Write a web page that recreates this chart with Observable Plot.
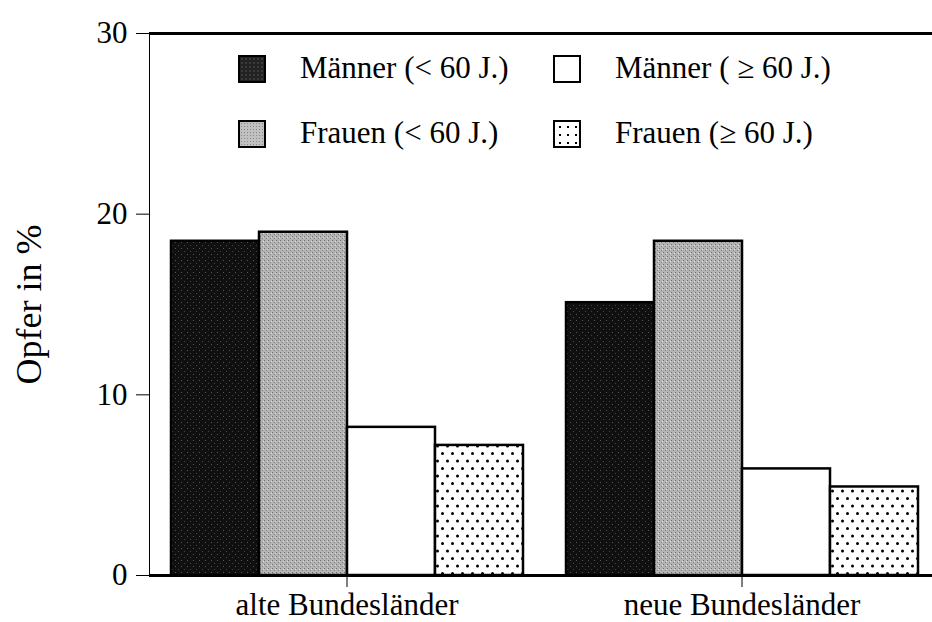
<!DOCTYPE html>
<html>
<head>
<meta charset="utf-8">
<script src="https://cdn.jsdelivr.net/npm/d3@7"></script>
<script src="https://cdn.jsdelivr.net/npm/@observablehq/plot@0.6"></script>
<style>
  html, body { margin: 0; padding: 0; background: white; }
  #wrap { position: relative; width: 932px; height: 622px; overflow: hidden; font-family: "Liberation Serif", "Times New Roman", serif; }
  #wrap svg { max-width: none !important; }
  #wrap svg text { font-family: "Liberation Serif", "Times New Roman", serif; font-size: 31px; }
  #wrap svg g[aria-label="y-axis label"] text { font-size: 36px; }
  #legend { position: absolute; left: 238px; top: 55px; display: grid; grid-template-columns: 315px auto; grid-auto-flow: column; grid-template-rows: 65px 65px; }
  .item { display: flex; align-items: flex-start; height: 28px; }
  .sw { width: 28px; height: 28px; box-sizing: border-box; border: 2.5px solid black; margin-right: 34px; flex: none; }
  .lab { font-size: 31px; line-height: 31px; color: black; white-space: pre; margin-top: -3px; }
</style>
</head>
<body>
<div id="wrap"></div>
<script>
// ---- data ----
const regions = ["alte Bundesländer", "neue Bundesländer"];
const seriesKeys = ["Männer <60", "Frauen <60", "Männer >=60", "Frauen >=60"];
const legendLabels = ["Männer (< 60 J.)", "Frauen (< 60 J.)", "Männer ( ≥ 60 J.)", "Frauen (≥ 60 J.)"];
const alteValues = [18.5, 19.0, 8.2, 7.2];
const neueValues = [15.1, 18.5, 5.9, 4.9];
const yTicks = [0, 10, 20, 30];
const fills = ["url(#darkTex)", "url(#grayTex)", "white", "url(#dots)"];

const data = [];
seriesKeys.forEach((s, i) => {
  data.push({region: regions[0], series: s, value: alteValues[i]});
  data.push({region: regions[1], series: s, value: neueValues[i]});
});

const chart = Plot.plot({
  width: 939,
  height: 622,
  marginLeft: 149,
  marginRight: 0,
  marginTop: 33,
  marginBottom: 47,
  style: {fontFamily: "'Liberation Serif', 'Times New Roman', serif", fontSize: "31px", color: "black", background: "white", maxWidth: "none"},
  facet: {marginTop: 0, marginBottom: 0, marginLeft: 0, marginRight: 0},
  fx: {domain: regions, padding: 0, label: null, axis: "bottom", tickSize: 12, tickPadding: 5},
  x: {domain: seriesKeys, paddingInner: 0, paddingOuter: 0.244, axis: null},
  y: {domain: [0, 30], ticks: yTicks, tickSize: 13, tickPadding: 9, label: "Opfer in %", labelAnchor: "center", labelArrow: false, labelOffset: 134, line: true},
  color: {domain: seriesKeys, range: fills},
  marks: [
    Plot.barY(data, {fx: "region", x: "series", y: "value", fill: "series", stroke: "black", strokeWidth: 2.5, inset: 0}),
    Plot.ruleY([0, 30], {stroke: "black", strokeWidth: 3})
  ]
});

// texture patterns
const defs = d3.select(chart).insert("defs", ":first-child");
const dots = defs.append("pattern").attr("id", "dots").attr("patternUnits", "userSpaceOnUse").attr("width", 10).attr("height", 15);
dots.append("rect").attr("width", 10).attr("height", 15).attr("fill", "white");
dots.append("circle").attr("cx", 2.5).attr("cy", 3.5).attr("r", 1.5).attr("fill", "black");
dots.append("circle").attr("cx", 7.5).attr("cy", 11).attr("r", 1.5).attr("fill", "black");
const dark = defs.append("pattern").attr("id", "darkTex").attr("patternUnits", "userSpaceOnUse").attr("width", 6).attr("height", 6);
dark.append("rect").attr("width", 6).attr("height", 6).attr("fill", "#101010");
dark.append("rect").attr("x", 1).attr("y", 2).attr("width", 1).attr("height", 1).attr("fill", "#555");
dark.append("rect").attr("x", 4).attr("y", 5).attr("width", 1).attr("height", 1).attr("fill", "#444");
const gray = defs.append("pattern").attr("id", "grayTex").attr("patternUnits", "userSpaceOnUse").attr("width", 4).attr("height", 4);
gray.append("rect").attr("width", 4).attr("height", 4).attr("fill", "#b4b4b4");
gray.append("rect").attr("x", 0).attr("y", 0).attr("width", 1).attr("height", 1).attr("fill", "#707070");
gray.append("rect").attr("x", 2).attr("y", 2).attr("width", 1).attr("height", 1).attr("fill", "#808080");
gray.append("rect").attr("x", 3).attr("y", 1).attr("width", 1).attr("height", 1).attr("fill", "#e0e0e0");

const wrap = document.getElementById("wrap");
wrap.appendChild(chart);

// legend overlay (inside plot area, as in the original)
const swatchFills = ["#222", "#c0c0c0", "white", "white"];
const legend = d3.select(wrap).append("div").attr("id", "legend");
seriesKeys.forEach((s, i) => {
  const item = legend.append("div").attr("class", "item");
  const sw = item.append("div").attr("class", "sw").style("background", swatchFills[i]);
  if (i === 3) sw.style("background-image", "radial-gradient(circle, black 1.2px, transparent 1.5px)").style("background-size", "8px 8px").style("background-position", "1px 1px");
  if (i === 0) sw.style("background-image", "radial-gradient(circle, #555 0.6px, transparent 0.8px)").style("background-size", "4px 4px");
  if (i === 1) sw.style("background-image", "radial-gradient(circle, #888 0.6px, transparent 0.8px)").style("background-size", "3px 3px");
  item.append("div").attr("class", "lab").text(legendLabels[i]);
});
</script>
</body>
</html>
